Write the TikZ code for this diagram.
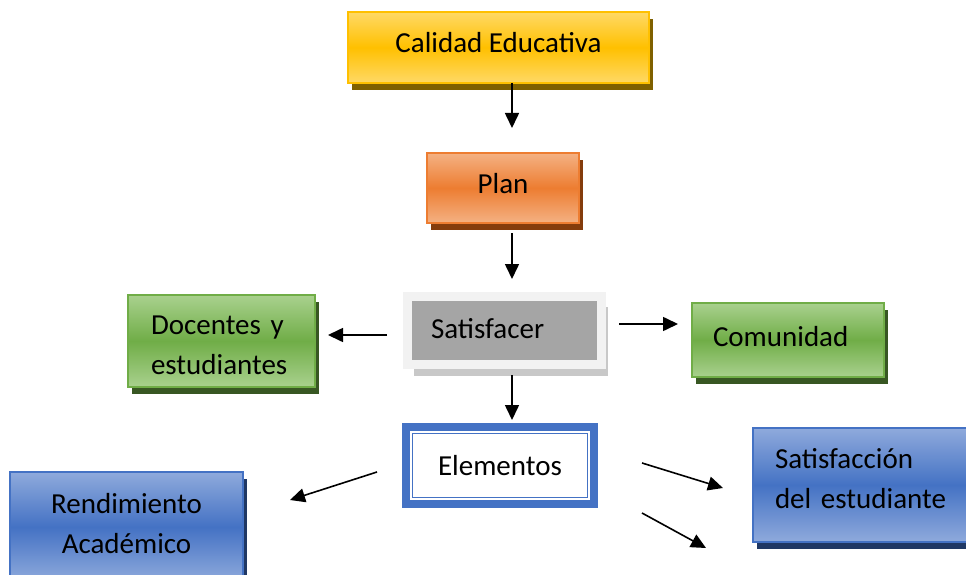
\documentclass[tikz,border=0pt]{standalone}
\usepackage{fontspec}
\setmainfont{Carlito}
\usetikzlibrary{arrows.meta,shadows}
\definecolor{yMid}{HTML}{FFC000}
\definecolor{yEdge}{HTML}{FFD966}
\definecolor{yShadow}{HTML}{7F6000}
\definecolor{oMid}{HTML}{ED7D31}
\definecolor{oEdge}{HTML}{F4B183}
\definecolor{oShadow}{HTML}{843C0C}
\definecolor{gMid}{HTML}{70AD47}
\definecolor{gEdge}{HTML}{A9D18E}
\definecolor{gShadow}{HTML}{385723}
\definecolor{bMid}{HTML}{4472C4}
\definecolor{bEdge}{HTML}{8FAADC}
\definecolor{bShadow}{HTML}{203864}
\definecolor{sFill}{HTML}{A5A5A5}
\definecolor{sBorder}{HTML}{F2F2F2}
\definecolor{sShadow}{HTML}{C8C8C8}
\newcommand\vlines[3]{\raisebox{#1}[\height][\depth]{\begin{tabular}{@{}#2@{}}#3\end{tabular}}}
\begin{document}
\begin{tikzpicture}[x=1pt,y=-1pt,
  font=\fontsize{29}{40}\selectfont,
  box/.style={rectangle, inner sep=0pt, outer sep=0pt, line width=2pt},
  shadowed/.style={drop shadow={shadow xshift=4pt, shadow yshift=-7pt, fill=#1, opacity=1}},
  ybox/.style={box, draw=yMid, top color=yEdge, bottom color=yEdge, middle color=yMid, shadowed=yShadow},
  obox/.style={box, draw=oMid, top color=oEdge, bottom color=oEdge, middle color=oMid, shadowed=oShadow},
  gbox/.style={box, draw=gMid, top color=gEdge, bottom color=gEdge, middle color=gMid, shadowed=gShadow},
  bbox/.style={box, draw=bMid, top color=bEdge, bottom color=bEdge, middle color=bMid, shadowed=bShadow},
  oneline/.style={text height=20pt, text depth=#1},
  arr/.style={-{Triangle[length=15pt,width=14pt]}, line width=1.6pt, black}
]
\useasboundingbox (0,0) rectangle (966,575);
\clip (0,0) rectangle (966,575);

\node[ybox, minimum width=301, minimum height=71, oneline=10pt] (cal) at (498.5,47.5) {Calidad Educativa};
\node[obox, minimum width=152, minimum height=70, oneline=10pt] (plan) at (503,188) {Plan};
\node[gbox, minimum width=187, minimum height=92, align=left, text width=141pt, inner xsep=23pt] (doc) at (221.5,341) {\vlines{-5pt}{l}{Docentes y\\estudiantes}};
\node[box, line width=9pt, draw=sBorder, fill=sFill,
      drop shadow={shadow xshift=6pt, shadow yshift=-11pt, fill=sShadow, opacity=1},
      minimum width=194, minimum height=68.5, align=left, text width=147pt, inner xsep=23.5pt, oneline=4pt] (sat) at (504.5,330.25) {Satisfacer};
\node[gbox, minimum width=192, minimum height=74, align=left, text width=150pt, inner xsep=21pt, oneline=8pt] (com) at (788,340) {Comunidad};
\node[box, line width=8pt, draw=bMid, fill=white, minimum width=188, minimum height=77] (el) at (500,465.5) {Elementos};
\draw[bMid, line width=1.6pt] ([shift={(6.5,6.5)}]el.north west) rectangle ([shift={(-6.5,-6.5)}]el.south east);
\node[bbox, minimum width=233, minimum height=110] (ren) at (126.5,527) {\vlines{2pt}{c}{Rendimiento\\Académico}};
\node[bbox, minimum width=222, minimum height=114, align=left, text width=178pt, inner xsep=22pt] (satest) at (864,485) {\vlines{5pt}{l}{Satisfacción\\del estudiante}};

\coordinate (ax) at (512,0);
\coordinate (hl) at (0,335);
\coordinate (hr) at (0,324);

\draw[arr, shorten >=25pt] (cal.south -| ax) -- (plan.north -| ax);
\draw[arr, shorten <=10pt, shorten >=17pt] (plan.south -| ax) -- (sat.north -| ax);
\draw[arr, shorten <=10.5pt, shorten >=7pt] (sat.south -| ax) -- (el.north -| ax);
\draw[arr, shorten <=20.5pt, shorten >=13pt] (sat.west |- hl) -- (doc.east |- hl);
\draw[arr, shorten <=17.5pt, shorten >=14pt] (sat.east |- hr) -- (com.west |- hr);
\draw[arr] ([shift={(-29,6.5)}]el.west) -- ([shift={(47,28)}]ren.north east);
\draw[arr] ([shift={(48,-2.5)}]el.east) -- ([shift={(-30,3)}]satest.west);
\draw[arr] ([shift={(48,9)}]el.south east) -- ([shift={(-47,6)}]satest.south west);
\end{tikzpicture}
\end{document}
